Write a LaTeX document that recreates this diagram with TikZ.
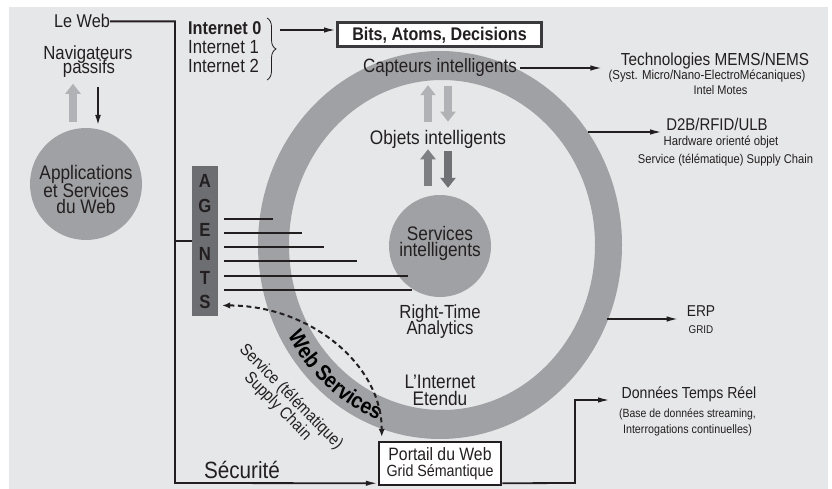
\documentclass[tikz,border=0pt]{standalone}
\usepackage{fontspec}
\setmainfont{Liberation Sans}[FakeStretch=0.88]
\usetikzlibrary{arrows.meta,decorations.pathreplacing,decorations.text}
\definecolor{bg}{HTML}{E6E7E8}
\definecolor{ringc}{HTML}{A0A1A4}
\definecolor{agentc}{HTML}{6D6E71}
\definecolor{lightarr}{HTML}{B1B2B5}
\definecolor{darkup}{HTML}{7E7F82}
\definecolor{darkdn}{HTML}{707174}
\definecolor{ink}{HTML}{231F20}
\definecolor{boxc}{HTML}{3A3A3C}
\newcommand\fsz[1]{\fontsize{#1}{#1}\selectfont}
\begin{document}
\begin{tikzpicture}[x=1pt,y=-1pt,
  t/.style={inner sep=0pt,text=ink,anchor=base},
  conn/.style={draw=ink,line width=1.8pt,-{Latex[length=12pt,width=5.5pt]}},
  plain/.style={draw=ink,line width=1.8pt},
  fatlight/.style={draw=lightarr,line width=8pt,-{Triangle[length=10pt,width=15pt]}},
  fatup/.style={draw=darkup,line width=8pt,-{Triangle[length=10pt,width=15pt]}},
  fatdn/.style={draw=darkdn,line width=8pt,-{Triangle[length=10pt,width=15pt]}},
  dashconn/.style={draw=ink,line width=2pt,dash pattern=on 5pt off 3.5pt,
     {Latex[length=8pt,width=6.5pt]}-{Latex[length=8pt,width=6.5pt]}},
  agl/.style={t,font=\fsz{19}\bfseries},
  disc/.style={circle,fill=ringc,inner sep=0pt},
]
\useasboundingbox (0,0) rectangle (832,489);
\fill[bg] (9,7) rectangle (828,489);
% ring
\fill[ringc,even odd rule] (440,245) ellipse[x radius=182,y radius=194]
   (442,245) ellipse[x radius=153,y radius=165];
\path[decorate,decoration={text along path,text align=center,
   text={|\fsz{22}\bfseries|Web Services}}]
   (440,245) ++(152:174 and 187) arc[start angle=152,end angle=110,x radius=174,y radius=187];

% circles
\node[disc,minimum size=112pt] (app) at (86,184) {};
\node[disc,minimum size=102pt] (svc) at (440,246) {};

% boxes
\node[draw=boxc,line width=3pt,fill=white,minimum width=204pt,minimum height=24pt,inner sep=0pt,text=ink,font=\fsz{18.3}\bfseries] (bits) at (439.5,35) {Bits, Atoms, Decisions};
\node[draw=ink,line width=2.5pt,fill=white,minimum width=122pt,minimum height=43pt,inner sep=0pt] (portail) at (440,463.5) {};
\node[fill=agentc,minimum width=26pt,minimum height=150pt,inner sep=0pt] (agents) at (205,241) {};

% texts
\node[t,font=\fsz{18.5}] (leweb) at (82,28) {Le Web};
\node[t,font=\fsz{19}] (nav1) at (88,60) {Navigateurs};
\node[t,font=\fsz{19}] (nav2) at (89,74) {passifs};
\node[t,font=\fsz{19.6}] (app1) at (86,180) {Applications};
\node[t,font=\fsz{19.6}] (app2) at (86,197) {et Services};
\node[t,font=\fsz{19.6}] (app3) at (86,214) {du Web};
\node[t,anchor=base west,font=\fsz{18.5}\bfseries] (inet0) at (188,35) {Internet 0};
\node[t,anchor=base west,font=\fsz{19}] (inet1) at (188,54) {Internet 1};
\node[t,anchor=base west,font=\fsz{19}] (inet2) at (188,73) {Internet 2};
\node[t,font=\fsz{19.3}] (capt) at (440,73) {Capteurs intelligents};
\node[t,font=\fsz{19.6}] (obj) at (438,145) {Objets intelligents};
\node[t,font=\fsz{19.6}] (svc1) at (440,240) {Services};
\node[t,font=\fsz{19.6}] (svc2) at (440,256) {intelligents};
\node[t,font=\fsz{19}] (rt1) at (440,318) {Right-Time};
\node[t,font=\fsz{19}] (rt2) at (440,334) {Analytics};
\node[t,font=\fsz{19.6}] (ie1) at (440,388) {L’Internet};
\node[t,font=\fsz{19.6}] (ie2) at (440,405) {Etendu};
\node[t,font=\fsz{17.4}] (tech1) at (715,66) {Technologies MEMS/NEMS};
\node[t,font=\fsz{13}] (tech2) at (707,80) {(Syst. Micro/Nano-ElectroMécaniques)};
\node[t,font=\fsz{12.5}] (tech3) at (720.5,95) {Intel Motes};
\node[t,font=\fsz{17}] (d2b1) at (717,131) {D2B/RFID/ULB};
\node[t,font=\fsz{12.9}] (d2b2) at (721,146) {Hardware orienté objet};
\node[t,font=\fsz{12.7}] (d2b3) at (725.5,164) {Service (télématique) Supply Chain};
\node[t,font=\fsz{15.7}] (erp1) at (701,316) {ERP};
\node[t,font=\fsz{11.2}] (erp2) at (701,333) {GRID};
\node[t,font=\fsz{16}] (don1) at (689,398) {Données Temps Réel};
\node[t,font=\fsz{11.9}] (don2) at (687.5,417) {(Base de données streaming,};
\node[t,font=\fsz{12.2}] (don3) at (687.5,433) {Interrogations continuelles)};
\node[t,font=\fsz{17.9}] (pw1) at (440,460) {Portail du Web};
\node[t,font=\fsz{16.2}] (pw2) at (440,476) {Grid Sémantique};
\node[t,font=\fsz{23.5}] (secu) at (242,478) {Sécurité};
\node[inner sep=0pt,text=ink,font=\fsz{16.8},rotate=-45.5] (scA) at (291,397) {Service (télématique)};
\node[inner sep=0pt,text=ink,font=\fsz{16.8},rotate=-45.5] (scB) at (277.5,406.5) {Supply Chain};
\node[agl] (ag1) at (205,187) {A};
\node[agl] (ag2) at (205,212) {G};
\node[agl] (ag3) at (205,236) {E};
\node[agl] (ag4) at (205,260) {N};
\node[agl] (ag5) at (205,284) {T};
\node[agl] (ag6) at (205,308) {S};

% coordinates
\coordinate (bendB) at (175,483);
\coordinate (brtip) at (280,30);
\coordinate (ringB) at (588,132);
\coordinate (ringE) at (607,319);
\coordinate (dbend) at (575,483);
\coordinate (dtip) at (610,400);

% brace
\draw[draw=ink,line width=0.8pt,decorate,decoration={brace,amplitude=9pt}] (267,18) -- (267,80);

% connectors
\draw[conn] (leweb.east) -| (bendB) -- ([yshift=3pt]portail.south west);
\draw[plain] (agents.west -| bendB) -- (agents.west);
\draw[conn] (brtip) -- (brtip -| bits.west);
\draw[conn] ([xshift=3pt]capt.east) -- ([xshift=-6pt]capt.east -| tech2.west);
\draw[conn] (ringB) -- ([xshift=-4pt]ringB -| d2b1.west);
\draw[conn] (ringE) -- ([xshift=-8pt]ringE -| erp1.west);
\draw[conn] ([yshift=3pt]portail.south east) -- (dbend) |- (dtip);
\draw[dashconn] ([xshift=4pt,yshift=-4pt]agents.east |- ag6) .. controls +(88,0) and +(0,-72) .. ([xshift=4pt,yshift=4pt]portail.north west);

% agents lines
\foreach \yy/\ll in {219/49,233/78,247/100,261/133,276/184,290/188}
  \draw[plain,line width=1.7pt] ([xshift=6pt]agents.east |- 0,\yy) -- ++(\ll,0);

% fat arrows
\draw[fatlight] ([xshift=-13pt,yshift=6pt]app.north) -- ++(0,-38);
\draw[conn,line width=1.5pt,-{Latex[length=10pt,width=6pt]}] ([xshift=12pt,yshift=41pt]app.north) -- ([xshift=12pt,yshift=3pt]app.north);
\draw[fatlight] ([xshift=-10pt,yshift=9pt]obj.north) -- ([xshift=-10pt,yshift=-8pt]obj.north |- capt.south);
\draw[fatlight] ([xshift=10pt,yshift=-9pt]obj.north |- capt.south) -- ([xshift=10pt,yshift=9pt]obj.north);
\draw[fatup] ([xshift=-12pt,yshift=9pt]svc.north) -- ([xshift=-10pt,yshift=0pt]obj.south);
\draw[fatdn] ([xshift=10pt,yshift=-2pt]obj.south) -- ([xshift=8pt,yshift=7pt]svc.north);
\end{tikzpicture}
\end{document}
